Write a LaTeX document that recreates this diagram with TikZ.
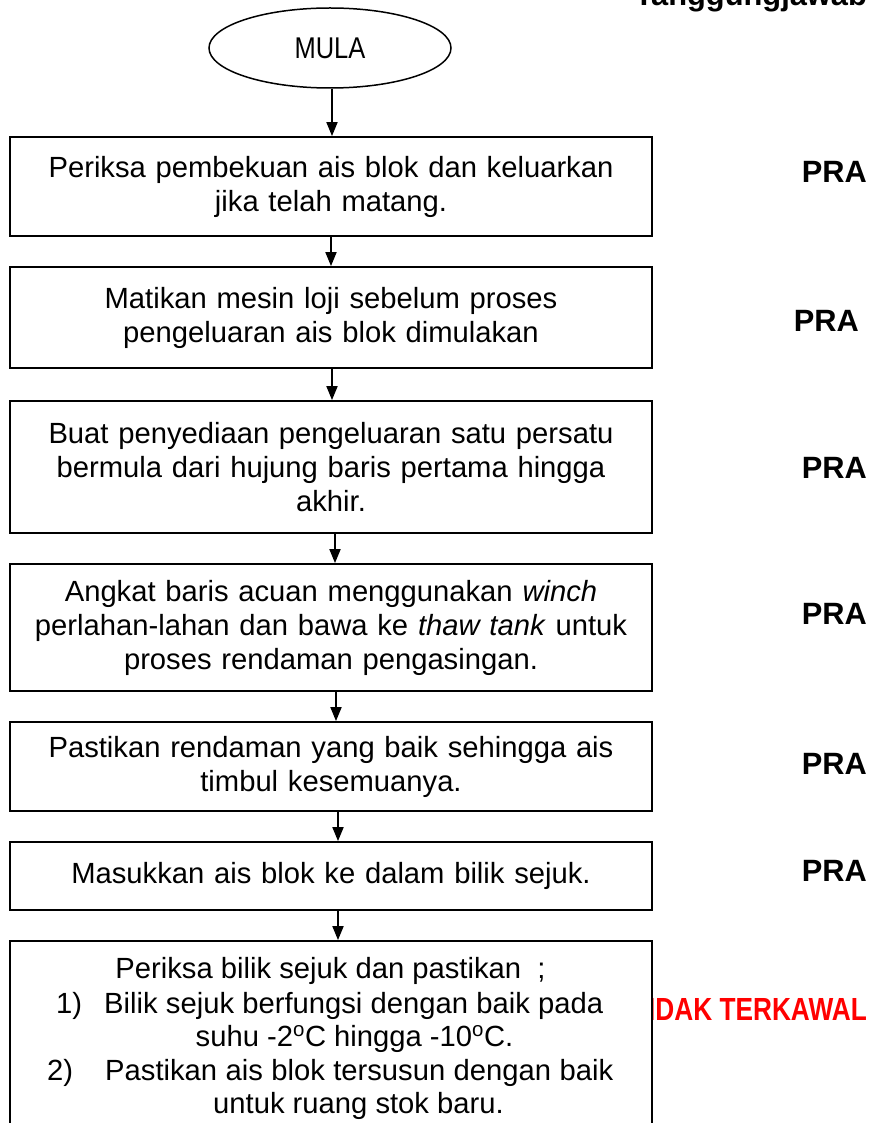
\documentclass[tikz,border=0pt]{standalone}
\usepackage{graphicx}
\usepackage{fontspec}
\setmainfont{Liberation Sans}
\usetikzlibrary{shapes.geometric,arrows.meta}
\newcommand\boxfont{\fontsize{29.2}{34}\selectfont}
\newcommand\lblfont{\fontsize{30.8}{36}\selectfont\bfseries}
\newcommand\redlblfont{\fontsize{32}{36}\selectfont\bfseries}
\newcommand\mulafont{\fontsize{30}{34}\selectfont}
\begin{document}
\begin{tikzpicture}[x=1pt,y=-1pt,
  flowbox/.style={draw, line width=1.8pt, fill=white, minimum width=642pt,
    text width=642pt, inner xsep=0pt, inner ysep=0pt, align=center, font=\boxfont},
  plain/.style={inner sep=0pt, font=\boxfont},
  lbl/.style={inner sep=0pt, anchor=base east, font=\lblfont},
  arr/.style={line width=1.8pt, -{Triangle[length=14pt,width=11pt]}}]
\useasboundingbox (0,0) rectangle (879,1123);
\clip (0,0) rectangle (879,1123);
\fill[white] (0,0) rectangle (879,1123);

% header
\node[lbl] (hdr) at (867,6) {Tanggungjawab};

% start
\node[draw, ellipse, line width=1.5pt, minimum width=242pt, minimum height=80pt,
  inner sep=0pt, font=\mulafont] (start) at (330,48) {\scalebox{0.85}[1]{MULA}};

% steps
\node[flowbox, minimum height=99pt] (b1) at (331,186.5)
  {Periksa pembekuan ais blok dan keluarkan\\jika telah matang.};
\node[flowbox, minimum height=101pt] (b2) at (331,317.5)
  {Matikan mesin loji sebelum proses\\pengeluaran ais blok dimulakan};
\node[flowbox, minimum height=132pt] (b3) at (331,467)
  {Buat penyediaan pengeluaran satu persatu\\bermula dari hujung baris pertama hingga\\akhir.};
\node[flowbox, minimum height=127pt] (b4) at (331,627.5)
  {Angkat baris acuan menggunakan \textit{winch}\\perlahan-lahan dan bawa ke \textit{thaw tank} untuk\\proses rendaman pengasingan.};
\node[flowbox, minimum height=89pt] (b5) at (331,766.5)
  {Pastikan rendaman yang baik sehingga ais\\timbul kesemuanya.};
\node[flowbox, minimum height=68pt] (b6) at (331,876)
  {Masukkan ais blok ke dalam bilik sejuk.};

% red label (partly hidden behind last box)
\node[inner sep=0pt, anchor=base east, text=red, font=\redlblfont] (ctl) at (867,1020)
  {\scalebox{0.82}[1]{TIDAK TERKAWAL}};

\node[flowbox, minimum height=199pt] (b7) at (331,1040.5) {};
\node[plain, anchor=base] (t7h) at (330.5,978) {Periksa bilik sejuk dan pastikan\ \ ;};
\node[plain, anchor=base west] (n1) at (56,1013) {1)};
\node[plain, anchor=base west] (t7b1) at (104,1013)
  {\makebox[499pt][s]{Bilik sejuk berfungsi dengan baik pada}};
\node[plain, anchor=base] (t7b2) at (354.5,1046)
  {suhu -2\textsuperscript{o}C hingga -10\textsuperscript{o}C.};
\node[plain, anchor=base west] (n2) at (47,1080) {2)};
\node[plain, anchor=base west] (t7c1) at (105,1080)
  {\makebox[508pt][s]{Pastikan ais blok tersusun dengan baik}};
\node[plain, anchor=base] (t7c2) at (358.5,1113) {untuk ruang stok baru.};

% responsibility labels
\node[lbl] (r1) at (867,183) {PRA};
\node[lbl] (r2) at (859,331) {PRA};
\node[lbl] (r3) at (867,478) {PRA};
\node[lbl] (r4) at (867,624) {PRA};
\node[lbl] (r5) at (867,774) {PRA};
\node[lbl] (r6) at (867,881) {PRA};

% connectors
\draw[arr] ([xshift=1pt]b1.north |- start.south) -- ([xshift=1pt]b1.north);
\draw[arr] (b1.south) -- (b2.north);
\draw[arr] ([xshift=1pt]b2.south) -- ([xshift=1pt]b3.north);
\draw[arr] ([xshift=4pt]b3.south) -- ([xshift=4pt]b4.north);
\draw[arr] ([xshift=5pt]b4.south) -- ([xshift=5pt]b5.north);
\draw[arr] ([xshift=7pt]b5.south) -- ([xshift=7pt]b6.north);
\draw[arr] ([xshift=7pt]b6.south) -- ([xshift=7pt]b7.north);
\end{tikzpicture}
\end{document}
